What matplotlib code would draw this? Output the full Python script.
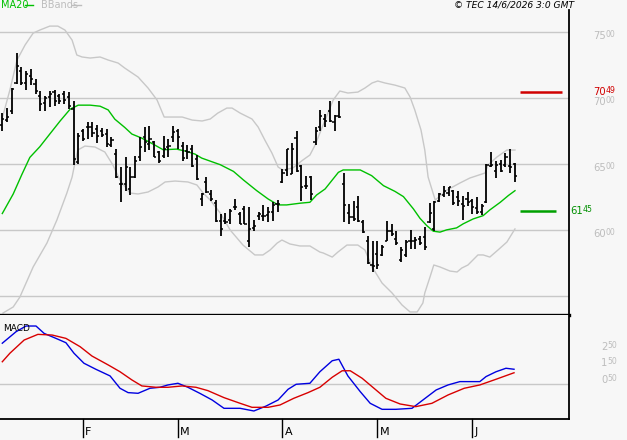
import matplotlib
matplotlib.use("Agg")
import matplotlib.pyplot as plt
import matplotlib.transforms as mtransforms
import numpy as np

# ---------------- data ----------------
opens = [6797, 6832, 6898, 7117, 7205, 7117, 7167, 7110, 7016, 6966,
         7009, 7042, 7016, 7029, 7009, 6916, 6513, 6752, 6777, 6777,
         6765, 6752, 6727, 6646, 6575, 6349, 6349, 6311, 6399, 6550,
         6701, 6651, 6664, 6588, 6563, 6626, 6701, 6752, 6638, 6601,
         6613, 6538, 6235, 6361, 6273, 6203, 6072, 6072, 6077, 6172,
         6122, 6160, 5920, 6016, 6109, 6109, 6117, 6135, 6198, 6361,
         6455, 6424, 6696, 6487, 6336, 6399, 6664, 6777, 6840, 6898,
         6815, 6865, 6349, 6127, 6097, 6172, 6059, 5920, 5732, 5820,
         5807, 5920, 5996, 5933, 5774, 5807, 5915, 5920, 5933, 5946,
         6059, 6008, 6218, 6268, 6278, 6293, 6248, 6198, 6235, 6223,
         6167, 6135, 6210, 6487, 6449, 6500, 6495, 6487, 6500]
highs = [6890, 6923, 7079, 7339, 7235, 7205, 7218, 7142, 7054, 7016,
         7054, 7059, 7034, 7054, 7042, 6979, 6732, 6765, 6815, 6822,
         6797, 6772, 6765, 6706, 6613, 6480, 6550, 6475, 6563, 6701,
         6782, 6787, 6671, 6601, 6714, 6689, 6790, 6765, 6664, 6646,
         6646, 6570, 6278, 6399, 6304, 6228, 6122, 6127, 6160, 6235,
         6135, 6185, 6172, 6077, 6135, 6193, 6172, 6210, 6228, 6462,
         6613, 6656, 6752, 6495, 6412, 6412, 6777, 6908, 6878, 6979,
         6873, 6979, 6429, 6198, 6223, 6261, 6077, 5958, 5915, 5920,
         5890, 6072, 6047, 5991, 5870, 5926, 6001, 5946, 5958, 6026,
         6203, 6223, 6278, 6336, 6329, 6304, 6298, 6261, 6286, 6235,
         6248, 6198, 6500, 6588, 6525, 6530, 6580, 6613, 6505]
lows = [6752, 6815, 6878, 7110, 7100, 7059, 7100, 7029, 6898, 6898,
        6933, 6941, 6953, 6958, 6916, 6495, 6500, 6671, 6689, 6701,
        6656, 6701, 6631, 6626, 6394, 6210, 6298, 6268, 6394, 6525,
        6588, 6606, 6550, 6505, 6545, 6555, 6664, 6613, 6525, 6538,
        6480, 6379, 6185, 6278, 6223, 6059, 5958, 6042, 6047, 6152,
        6042, 6042, 5875, 5996, 6077, 6067, 6059, 6072, 6135, 6354,
        6412, 6424, 6437, 6223, 6311, 6228, 6646, 6752, 6782, 6815,
        6752, 6848, 6059, 6042, 6067, 6059, 5976, 5744, 5681, 5706,
        5800, 5915, 5958, 5883, 5757, 5795, 5855, 5858, 5883, 5850,
        6052, 5996, 6210, 6248, 6261, 6193, 6185, 6077, 6185, 6122,
        6122, 6117, 6203, 6475, 6394, 6437, 6475, 6429, 6361]
closes = [6840, 6858, 7067, 7243, 7117, 7180, 7142, 7054, 6953, 6999,
          7029, 6979, 6979, 6984, 6941, 6538, 6714, 6689, 6782, 6732,
          6714, 6722, 6651, 6681, 6399, 6349, 6475, 6399, 6525, 6631,
          6664, 6689, 6555, 6525, 6613, 6638, 6739, 6706, 6545, 6588,
          6487, 6386, 6273, 6286, 6235, 6072, 6008, 6059, 6147, 6172,
          6047, 6047, 6008, 6034, 6122, 6109, 6135, 6193, 6198, 6429,
          6613, 6613, 6449, 6324, 6336, 6273, 6752, 6865, 6827, 6827,
          6865, 6853, 6193, 6097, 6084, 6072, 5984, 5749, 5724, 5732,
          5870, 5996, 5971, 5900, 5845, 5908, 5920, 5926, 5900, 5870,
          6127, 6210, 6273, 6293, 6324, 6203, 6223, 6185, 6210, 6177,
          6135, 6185, 6495, 6495, 6495, 6449, 6555, 6475, 6412]

ma20_x = [0, 2.3, 4.1, 5.8, 7.9, 10, 12.2, 14.3, 16, 18.5, 20.6, 22.3, 23.7,
          25.8, 27.3, 29.4, 31.5, 33.9, 36.7, 38.8, 40.6, 42, 44.1, 45.9,
          48.7, 50.8, 53.6, 56, 58.1, 59.9, 62.7, 64.8, 66.2, 68, 69.4,
          70.8, 71.8, 75.4, 77.8, 80.3, 82.7, 84.5, 86.6, 88, 89.4, 90.8,
          92.2, 93.6, 95.7, 97.1, 99.2, 101.3, 102.7, 104.9, 106.6, 108]
ma20_v = [6125, 6273, 6419, 6550, 6631, 6727, 6827, 6916, 6946, 6946, 6938,
          6910, 6840, 6777, 6727, 6696, 6656, 6608, 6613, 6596, 6575,
          6545, 6518, 6495, 6444, 6379, 6298, 6235, 6190, 6190, 6203,
          6210, 6265, 6311, 6374, 6437, 6455, 6455, 6412, 6336, 6293,
          6253, 6160, 6088, 6034, 5991, 5984, 6001, 6016, 6047, 6084,
          6109, 6152, 6210, 6261, 6298]

bb_up_x = [0, 1.6, 3.1, 4.8, 6.5, 7.9, 10, 11.7, 13.2, 14.7, 15.7, 16.8,
           18.5, 20.6, 22.3, 24.4, 25.8, 28.6, 30.7, 32.6, 34.1, 35.7,
           37.9, 40, 42.1, 43.8, 45.4, 47.3, 48.4, 50.1, 52.6, 53.9, 55.3,
           56.8, 58.1, 59.1, 61.2, 63.3, 64.8, 65.9, 66.9, 68, 69.7, 71.1,
           72.8, 74.9, 76.4, 77.9, 79.1, 80.6, 82.7, 84.8, 85.9, 86.9,
           88.2, 89, 89.7, 91.2, 93.7, 96.4, 98.5, 101.7, 102.3, 104.2,
           106.3, 108]
bb_up_v = [6849, 7061, 7288, 7402, 7492, 7515, 7545, 7545, 7515, 7439,
           7326, 7311, 7303, 7311, 7288, 7265, 7227, 7159, 7076, 6985,
           6856, 6856, 6856, 6833, 6826, 6841, 6886, 6924, 6924, 6886,
           6841, 6780, 6682, 6583, 6477, 6455, 6470, 6530, 6568, 6644,
           6735, 6833, 6985, 7053, 7038, 7045, 7076, 7114, 7129, 7114,
           7098, 7076, 7008, 6909, 6758, 6606, 6401, 6227, 6303, 6356,
           6394, 6432, 6492, 6553, 6606, 6606]

bb_lo_x = [0.15, 2.3, 3.7, 6.5, 9.4, 11.5, 13.6, 14.7, 15.3, 15.9, 17.4,
           19.5, 21.6, 23.3, 24.8, 26.9, 28.6, 30.7, 32.8, 34.3, 36.4,
           39.1, 41, 42.3, 43.8, 45.9, 48, 50.7, 53.2, 54.9, 56.4, 57.9,
           58.9, 60.6, 62.7, 64.8, 66.9, 67.6, 69.5, 70.7, 72.6, 74.9,
           76.4, 77.9, 80, 82.1, 84.2, 85.9, 87.4, 88.6, 89, 90.1, 90.9,
           92.2, 94.3, 95.8, 96.8, 98.1, 100.2, 101.3, 102.7, 104.4,
           106.3, 107.6, 108]
bb_lo_v = [5371, 5417, 5492, 5720, 5901, 6076, 6280, 6401, 6508, 6606,
           6636, 6629, 6591, 6492, 6379, 6280, 6273, 6288, 6326, 6364,
           6371, 6364, 6341, 6280, 6227, 6129, 6000, 5886, 5811, 5811,
           5848, 5901, 5924, 5894, 5879, 5879, 5833, 5826, 5795, 5833,
           5886, 5886, 5848, 5720, 5598, 5523, 5432, 5379, 5379, 5447,
           5523, 5644, 5735, 5720, 5689, 5682, 5712, 5735, 5811, 5811,
           5795, 5848, 5909, 5985, 6008]

macd_x = [0, 2.9, 5, 7.1, 8.8, 11.3, 13.4, 15.1, 17.2, 19.7, 22.7, 24.8,
          26.5, 28.6, 31.1, 33.2, 34.9, 37, 39.1, 41.6, 44.2, 46.7, 50.1,
          53, 55.6, 58.1, 60.2, 61.9, 64.8, 66.9, 69.5, 70.9, 72.8, 75.4,
          77.5, 80, 82.9, 86.3, 88.8, 91.4, 93.9, 96.4, 98.9, 100.6,
          101.9, 104, 106.1, 107.8]
macd_v = [2.46, 3.15, 3.49, 3.49, 3.05, 2.75, 2.49, 1.86, 1.26, 0.90, 0.50,
          -0.24, -0.50, -0.54, -0.24, -0.18, -0.04, 0.06, -0.18, -0.54,
          -0.94, -1.44, -1.44, -1.60, -1.30, -0.94, -0.30, 0.0, 0.06, 0.75,
          1.41, 1.50, 0.50, -0.44, -1.14, -1.50, -1.50, -1.44, -0.90,
          -0.34, -0.04, 0.16, 0.16, 0.16, 0.46, 0.75, 0.96, 0.90]

signal_x = [0, 1.6, 4.6, 7.5, 10.5, 13.4, 16.4, 18.9, 22.3, 24.8, 27.3,
            29.4, 32.4, 34.9, 37.9, 40.8, 43.3, 46.7, 50.1, 52.6, 56, 58.5,
            61.4, 64.4, 66.9, 69.5, 71.6, 73.3, 75.8, 78.3, 80.8, 83.8,
            87.1, 90.5, 93.9, 97.3, 100.6, 104, 107.8]
signal_v = [1.35, 1.86, 2.65, 2.99, 2.95, 2.75, 2.25, 1.69, 1.16, 0.75, 0.26,
            -0.10, -0.18, -0.18, -0.10, -0.18, -0.38, -0.80, -1.14, -1.38,
            -1.38, -1.24, -0.84, -0.50, -0.18, 0.42, 0.81, 0.81, 0.36,
            -0.24, -0.84, -1.18, -1.34, -1.14, -0.64, -0.24, -0.04, 0.30,
            0.69]

price_ticks = [6000, 6500, 7000, 7500]
price_grid = [5500, 6000, 6500, 7000, 7500]
macd_ticks = [0.50, 1.50, 2.50]
month_labels = ["F", "M", "A", "M", "J"]
month_pos = [17, 37, 59, 79, 99]
resistance = 7049
support = 6145

# ---------------- style ----------------
W, H, DPI = 627, 440, 100
BG = "#F7F7F7"
GRID = "#C8C8C8"
LBL = "#BDBDBD"
GREEN = "#00C000"

fig = plt.figure(figsize=(W / DPI, H / DPI), dpi=DPI, facecolor=BG)


def rect(x0, y0, x1, y1):
    return [x0 / W, 1 - y1 / H, (x1 - x0) / W, (y1 - y0) / H]


XLIM = (-0.485, 119.38)
ax = fig.add_axes(rect(0, 10, 569, 315))
axm = fig.add_axes(rect(0, 315, 569, 419))
for a in (ax, axm):
    a.set_facecolor(BG)
    a.set_xlim(*XLIM)
    a.set_xticks([])
    a.set_yticks([])
    a.spines["left"].set_visible(False)
    a.spines["top"].set_visible(False)
    a.spines["right"].set_color("black")
    a.spines["right"].set_linewidth(1.3)
    a.spines["bottom"].set_color("black")
ax.spines["bottom"].set_linewidth(2.4)
axm.spines["bottom"].set_linewidth(1.3)
ax.set_ylim(5356, 7667)
axm.set_ylim(-2.08, 4.15)

for g in price_grid:
    ax.axhline(g, color=GRID, lw=1.0, zorder=1)
axm.axhline(0, color=GRID, lw=1.0, zorder=1)

# Bollinger bands and MA
ax.plot(bb_up_x, bb_up_v, color=GRID, lw=1.0, zorder=2)
ax.plot(bb_lo_x, bb_lo_v, color=GRID, lw=1.0, zorder=2)
ax.plot(ma20_x, ma20_v, color=GREEN, lw=1.0, zorder=3)

# OHLC bars
idx = np.arange(len(closes))
ax.vlines(idx, lows, highs, color="black", lw=1.3, zorder=4)
ax.hlines(opens, idx - 0.45, idx, color="black", lw=1.1, zorder=4)
ax.hlines(closes, idx, idx + 0.45, color="black", lw=1.1, zorder=4)

# markers
ax.hlines(resistance, 109, 117.9, color="#D00000", lw=1.8, zorder=4, clip_on=False)
ax.hlines(support, 109, 116.6, color="#00A000", lw=1.8, zorder=4, clip_on=False)

# MACD
axm.plot(macd_x, macd_v, color="#0000E0", lw=1.0, zorder=3)
axm.plot(signal_x, signal_v, color="#D80000", lw=1.0, zorder=3)


def split_label(a, xpix, yval, big_s, small_s, color, dy=0.0,
                big=7.2, small=5.6):
    tr = mtransforms.blended_transform_factory(fig.transFigure, a.transData)
    t1 = mtransforms.offset_copy(tr, fig=fig, x=0, y=dy, units="dots")
    t2 = mtransforms.offset_copy(tr, fig=fig, x=6.3 * len(big_s), y=dy + 1.5,
                                 units="dots")
    a.text(xpix / W, yval, big_s, transform=t1, color=color, fontsize=big,
           va="center", ha="left", clip_on=False)
    a.text(xpix / W, yval, small_s, transform=t2, color=color, fontsize=small,
           va="center", ha="left", clip_on=False)


for v in price_ticks:
    s = f"{v}"
    split_label(ax, 593, v, s[:2], s[2:], LBL, dy=-4)
for v in macd_ticks:
    s = f"{v:.2f}"
    split_label(axm, 601, v, s[0], s[2:], LBL, dy=-4)

s = f"{resistance}"
split_label(ax, 593, resistance, s[:2], s[2:], "#D00000")
s = f"{support}"
split_label(ax, 570, support, s[:2], s[2:], "#009000")

# month ticks
trm = mtransforms.blended_transform_factory(axm.transData, fig.transFigure)
for p, lab in zip(month_pos, month_labels):
    axm.plot([p, p], [1 - 419 / H, 1 - 437 / H], color="black", lw=1.0,
             transform=trm, clip_on=False)
    axm.text(p + 0.45, 1 - 432 / H, lab, transform=trm, fontsize=8,
             va="center", ha="left", color="black", clip_on=False)

# header
fig.text(1 / W, 1 - 5 / H, "MA20", color=GREEN, fontsize=7, va="center", ha="left")
fig.add_artist(plt.Line2D([25 / W, 33 / W], [1 - 5 / H, 1 - 5 / H], color=GREEN, lw=1))
fig.text(41 / W, 1 - 5 / H, "BBands", color=LBL, fontsize=7, va="center", ha="left")
fig.add_artist(plt.Line2D([72 / W, 81 / W], [1 - 5 / H, 1 - 5 / H], color=LBL, lw=1))
fig.text(574 / W, 1 - 5 / H, "\u00a9 TEC 14/6/2026 3:0 GMT", color="black",
         fontsize=6.6, style="italic", va="center", ha="right")
fig.text(3 / W, 1 - 328 / H, "MACD", color="black", fontsize=6.5, va="center", ha="left")

fig.savefig("out.png", dpi=DPI, facecolor=BG)
